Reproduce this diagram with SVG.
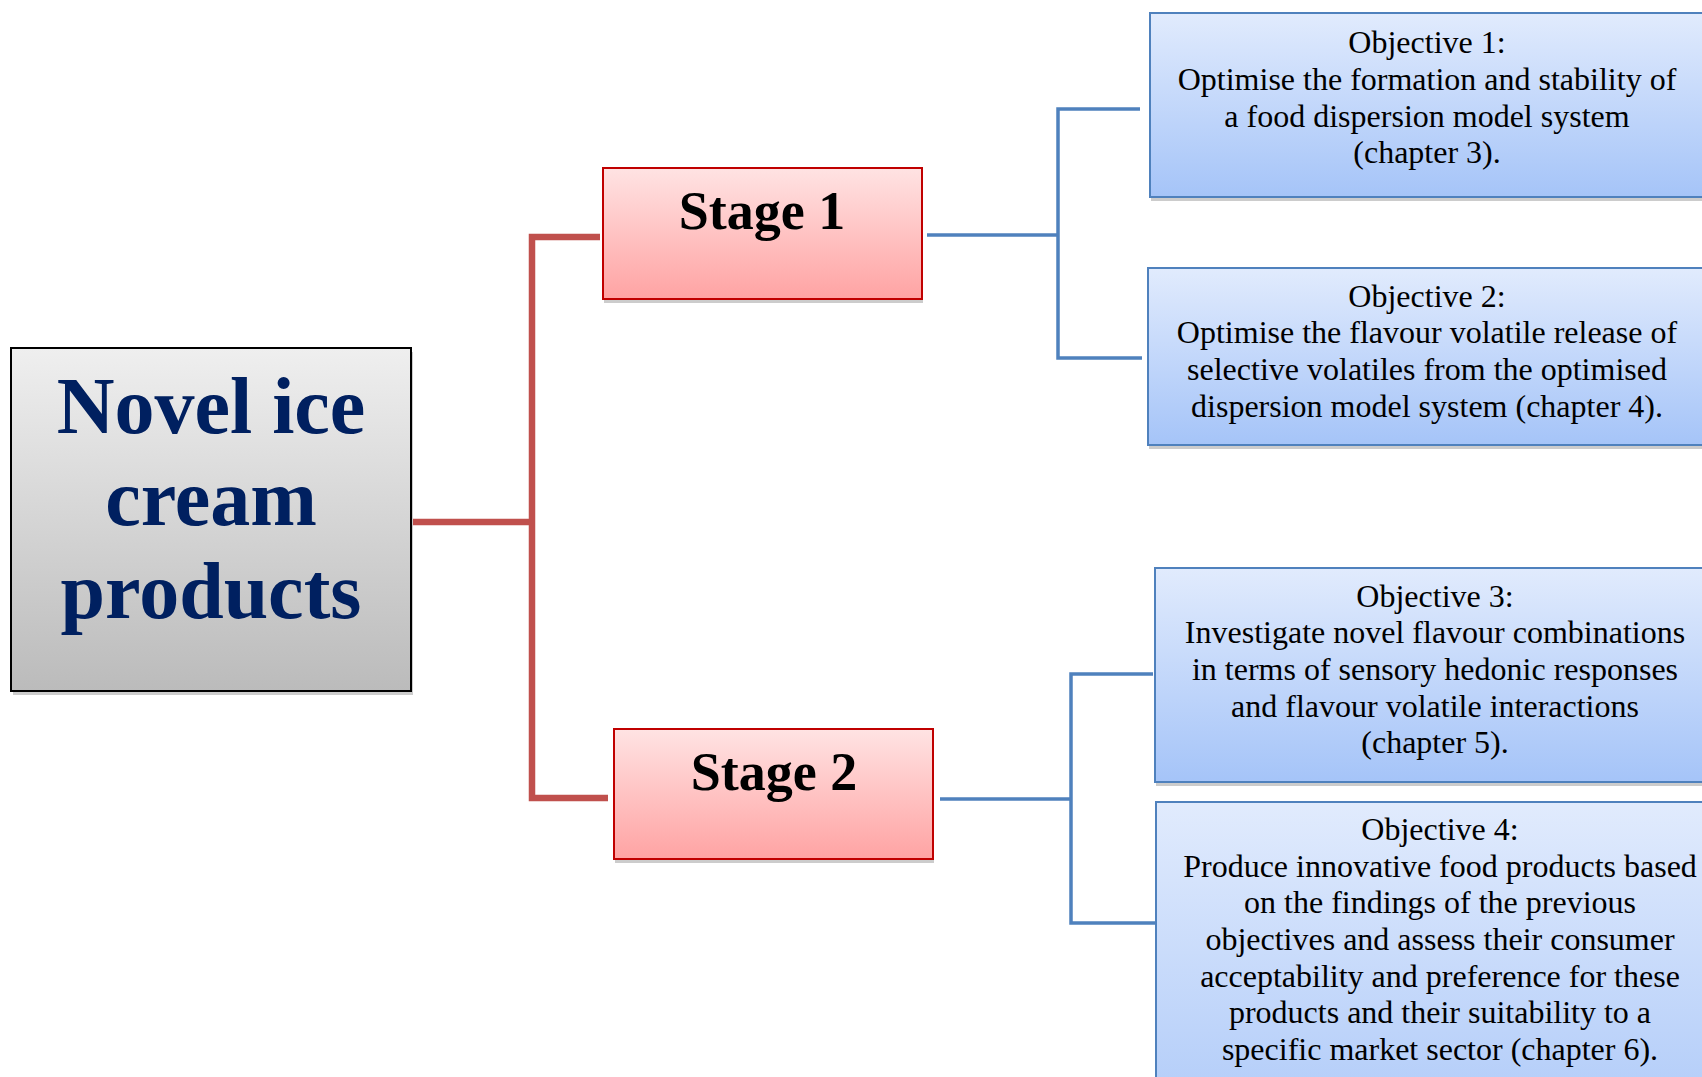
<svg xmlns="http://www.w3.org/2000/svg" width="1702" height="1077" viewBox="0 0 1702 1077">
  <defs>
    <linearGradient id="gGray" x1="0" y1="0" x2="0" y2="1">
      <stop offset="0" stop-color="#EFEFEF"/>
      <stop offset="1" stop-color="#BBBBBB"/>
    </linearGradient>
    <linearGradient id="gRed" x1="0" y1="0" x2="0" y2="1">
      <stop offset="0" stop-color="#FFE3E3"/>
      <stop offset="1" stop-color="#FFA3A3"/>
    </linearGradient>
    <linearGradient id="gBlue" x1="0" y1="0" x2="0" y2="1">
      <stop offset="0" stop-color="#E1EBFD"/>
      <stop offset="1" stop-color="#A5C4F8"/>
    </linearGradient>
    <linearGradient id="gBlue4" x1="0" y1="0" x2="0" y2="1">
      <stop offset="0" stop-color="#E1EBFD"/>
      <stop offset="1" stop-color="#B3CDF9"/>
    </linearGradient>
  </defs>
  <style>
    .shadow { fill: #CCCCCC; }
    .main { fill: url(#gGray); stroke: #000000; stroke-width: 2; }
    .stage { fill: url(#gRed); stroke: #C00000; stroke-width: 2; }
    .obj { fill: url(#gBlue); stroke: #4F81BD; stroke-width: 2; }
    .red { fill: none; stroke: #C0504D; stroke-width: 6.5; }
    .blue { fill: none; stroke: #4F81BD; stroke-width: 3.5; }
    .mainText { font-family: "Liberation Serif", "Times New Roman", serif; font-weight: bold; font-size: 80px; fill: #002060; text-anchor: middle; }
    .stageText { font-family: "Liberation Serif", "Times New Roman", serif; font-weight: bold; font-size: 54px; fill: #000000; text-anchor: middle; }
    .objText { font-family: "Liberation Serif", "Times New Roman", serif; font-weight: normal; font-size: 32px; fill: #000000; text-anchor: middle; }
  </style>

  <g id="connectors">
    <polyline class="red" points="413,522 532,522"/>
    <polyline class="red" points="600,237 532,237 532,798 608,798"/>
    <polyline class="blue" points="927,235 1058,235"/>
    <polyline class="blue" points="1140,109 1058,109 1058,358 1142,358"/>
    <polyline class="blue" points="940,799 1071,799"/>
    <polyline class="blue" points="1153,674 1071,674 1071,923 1155,923"/>
  </g>

  <g id="node-main">
    <rect class="shadow" x="13" y="352" width="400" height="343"/>
    <rect class="main" x="11" y="348" width="400" height="343"/>
    <text class="mainText" x="211" y="433">Novel ice</text>
    <text class="mainText" x="211" y="525">cream</text>
    <text class="mainText" x="211" y="618">products</text>
  </g>

  <g id="node-stage1">
    <rect class="shadow" x="604" y="172" width="319" height="131"/>
    <rect class="stage" x="603" y="168" width="319" height="131"/>
    <text class="stageText" x="762" y="229">Stage 1</text>
  </g>

  <g id="node-stage2">
    <rect class="shadow" x="615" y="733" width="319" height="130"/>
    <rect class="stage" x="614" y="729" width="319" height="130"/>
    <text class="stageText" x="774" y="790">Stage 2</text>
  </g>

  <g id="node-obj1">
    <rect class="shadow" x="1151" y="17" width="560" height="184"/>
    <rect class="obj" x="1150" y="13" width="560" height="184"/>
    <text class="objText" x="1427" y="53">Objective 1:</text>
    <text class="objText" x="1427" y="90">Optimise the formation and stability of</text>
    <text class="objText" x="1427" y="127">a food dispersion model system</text>
    <text class="objText" x="1427" y="163">(chapter 3).</text>
  </g>

  <g id="node-obj2">
    <rect class="shadow" x="1149" y="272" width="560" height="177"/>
    <rect class="obj" x="1148" y="268" width="560" height="177"/>
    <text class="objText" x="1427" y="307">Objective 2:</text>
    <text class="objText" x="1427" y="343">Optimise the flavour volatile release of</text>
    <text class="objText" x="1427" y="380">selective volatiles from the optimised</text>
    <text class="objText" x="1427" y="417">dispersion model system (chapter 4).</text>
  </g>

  <g id="node-obj3">
    <rect class="shadow" x="1156" y="572" width="560" height="214"/>
    <rect class="obj" x="1155" y="568" width="560" height="214"/>
    <text class="objText" x="1435" y="607">Objective 3:</text>
    <text class="objText" x="1435" y="643">Investigate novel flavour combinations</text>
    <text class="objText" x="1435" y="680">in terms of sensory hedonic responses</text>
    <text class="objText" x="1435" y="717">and flavour volatile interactions</text>
    <text class="objText" x="1435" y="753">(chapter 5).</text>
  </g>

  <g id="node-obj4">
    <rect class="obj" x="1156" y="802" width="560" height="300" style="fill:url(#gBlue4)"/>
    <text class="objText" x="1440" y="840">Objective 4:</text>
    <text class="objText" x="1440" y="877">Produce innovative food products based</text>
    <text class="objText" x="1440" y="913">on the findings of the previous</text>
    <text class="objText" x="1440" y="950">objectives and assess their consumer</text>
    <text class="objText" x="1440" y="987">acceptability and preference for these</text>
    <text class="objText" x="1440" y="1023">products and their suitability to a</text>
    <text class="objText" x="1440" y="1060">specific market sector (chapter 6).</text>
  </g>
</svg>
